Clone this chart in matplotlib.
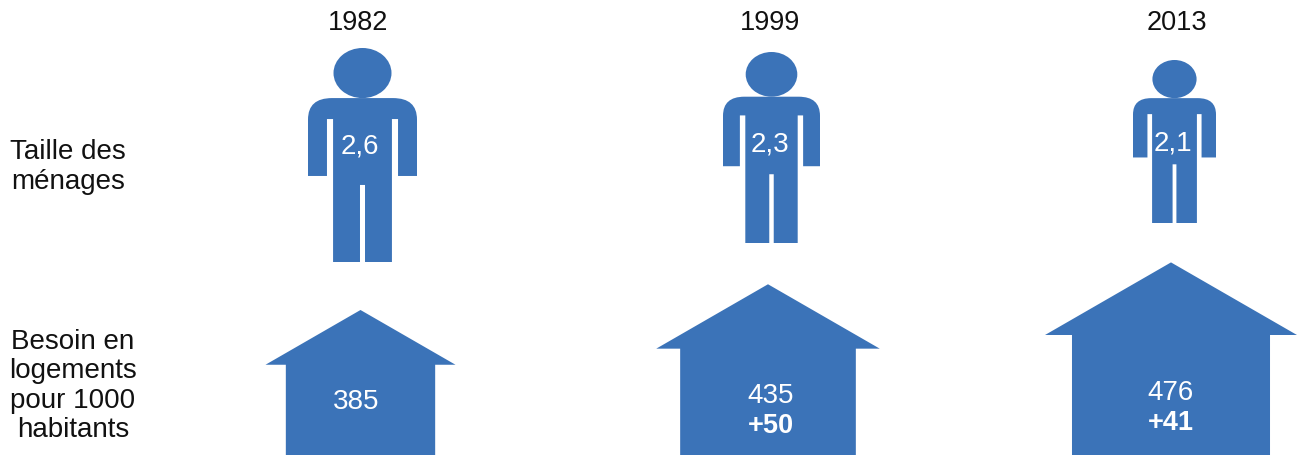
import matplotlib
matplotlib.use("Agg")
import matplotlib.pyplot as plt
import numpy as np
from matplotlib.path import Path
from matplotlib.patches import PathPatch, Ellipse

plt.rcParams['font.family'] = ['Liberation Sans', 'DejaVu Sans']

# --- data ---
years = ["1982", "1999", "2013"]
household_size = [2.6, 2.3, 2.1]
housing_need = [385, 435, 476]
housing_change = [None, 50, 41]
row_labels = ["Taille des\nménages", "Besoin en\nlogements\npour 1000\nhabitants"]

# --- layout (pixels) ---
W, H = 1301, 456
BLUE = "#3B73B8"
person_cx = [362.5, 771.5, 1174.5]
person_top = [49, 53, 61]
person_w = [109, 97, 83]
person_h = [214, 191, 163]
person_label_x = [360, 770, 1173]
person_label_y = [147, 145, 144]
year_x = [358.5, 770, 1176.5]
house_cx = [360.5, 768, 1171]
house_bottom = 457
house_w_ref, house_h_ref, house_ref, house_pow = 190, 146, 385, 1.33
house_roof = 0.375
house_inset = 0.107
house_label_x = [356, 771, 1171]
house_label_y = [402, 396, 393]
change_label_y = [None, 426, 423]
FS = 19.5

fig = plt.figure(figsize=(W / 100, H / 100), dpi=100)
ax = fig.add_axes([0, 0, 1, 1])
ax.set_xlim(0, W)
ax.set_ylim(H, 0)
ax.axis("off")


def person(cx, top, w, h):
    # body outline in unit box: x in [-.5, .5] (of width), y in [0, 1] (of height)
    sy, rx, ry = 0.234, 0.22, 0.10
    pts = [(-.5 + rx, sy), (.5 - rx, sy), (.5, sy), (.5, sy + ry), (.5, .598),
           (.326, .598), (.326, .332), (.27, .332), (.27, 1), (.023, 1), (.023, .64),
           (-.023, .64), (-.023, 1), (-.27, 1), (-.27, .332), (-.326, .332),
           (-.326, .598), (-.5, .598), (-.5, sy + ry), (-.5, sy), (-.5 + rx, sy)]
    codes = [Path.MOVETO, Path.LINETO, Path.CURVE3, Path.CURVE3, Path.LINETO,
             Path.LINETO, Path.LINETO, Path.LINETO, Path.LINETO, Path.LINETO, Path.LINETO,
             Path.LINETO, Path.LINETO, Path.LINETO, Path.LINETO, Path.LINETO,
             Path.LINETO, Path.LINETO, Path.LINETO, Path.CURVE3, Path.CURVE3]
    xy = np.array(pts) * [w, h] + [cx, top]
    ax.add_patch(PathPatch(Path(xy, codes), fc=BLUE, ec="none"))
    ax.add_patch(Ellipse((cx, top + .117 * h), .532 * w, .234 * h, fc=BLUE, ec="none"))


def house(cx, bottom, value):
    k = (value / house_ref) ** house_pow
    w, h = house_w_ref * k, house_h_ref * k
    e = bottom - h * (1 - house_roof)
    i = w * house_inset
    xy = [(cx, bottom - h), (cx + w / 2, e), (cx + w / 2 - i, e), (cx + w / 2 - i, bottom),
          (cx - w / 2 + i, bottom), (cx - w / 2 + i, e), (cx - w / 2, e)]
    ax.fill(*zip(*xy), fc=BLUE, ec="none")


for i, y in enumerate(years):
    ax.text(year_x[i], 23, y, ha="center", va="center", fontsize=FS, color="#111111")
    person(person_cx[i], person_top[i], person_w[i], person_h[i])
    ax.text(person_label_x[i], person_label_y[i], f"{household_size[i]:.1f}".replace(".", ","),
            ha="center", va="center", fontsize=FS + 0.5, color="white")
    house(house_cx[i], house_bottom, housing_need[i])
    ax.text(house_label_x[i], house_label_y[i], str(housing_need[i]),
            ha="center", va="center", fontsize=FS + 0.5, color="white")
    if housing_change[i] is not None:
        ax.text(house_label_x[i], change_label_y[i], f"+{housing_change[i]}",
                ha="center", va="center", fontsize=FS, fontweight="bold", color="white")

ax.text(68, 167, row_labels[0], ha="center", va="center", fontsize=20,
        linespacing=1.18, color="#111111")
ax.text(73, 386, row_labels[1], ha="center", va="center", fontsize=20,
        linespacing=1.16, color="#111111")

fig.savefig("out.png", dpi=100)
